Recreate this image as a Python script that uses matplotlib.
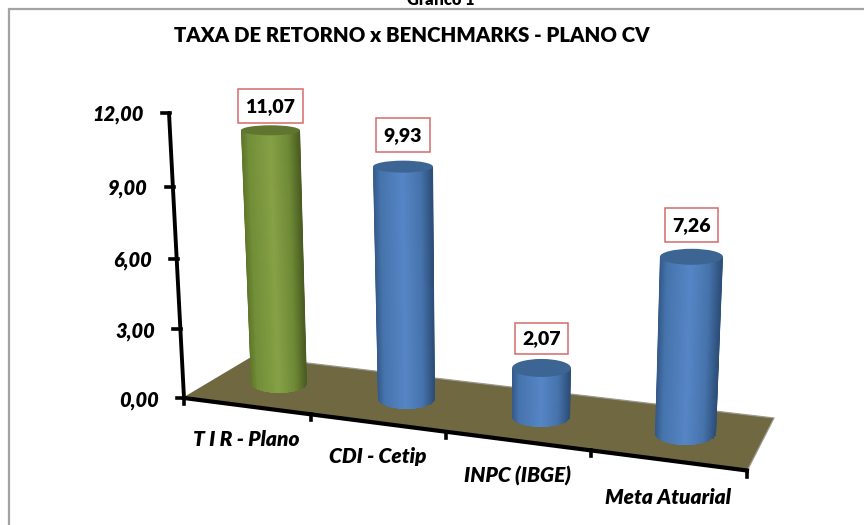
import numpy as np
import matplotlib
matplotlib.use('Agg')
import matplotlib.pyplot as plt
from matplotlib.colors import LinearSegmentedColormap
from matplotlib.patches import Ellipse, PathPatch, Polygon, Rectangle
from matplotlib.path import Path

categories = ['T I R - Plano', 'CDI - Cetip', 'INPC (IBGE)', 'Meta Atuarial']
values = [11.07, 9.93, 2.07, 7.26]
y_ticks = [0, 3, 6, 9, 12]
title = 'TAXA DE RETORNO x BENCHMARKS - PLANO CV'

plt.rcParams['font.family'] = ['Lato', 'DejaVu Sans']

# everything is laid out in picture pixels, y going down
W, H = 864, 525
fig = plt.figure(figsize=(W / 100, H / 100), dpi=100)
ax = fig.add_axes([0, 0, 1, 1])
ax.set_xlim(0, W)
ax.set_ylim(H, 0)
ax.axis('off')


def persp(t, k):
    # foreshortening along an axis seen in perspective
    return t / (1 + k * (1 - t))


def money(v):
    return f'{v:.2f}'.replace('.', ',')


# frame and the cut off caption above it
ax.add_patch(Rectangle((9, 8.5), W, H, fc='white', ec='#a3a3a3', lw=1.6))
ax.text(441, 0, 'Gráfico 1', ha='center', va='center', fontsize=11.8, fontweight='heavy')
ax.text(412, 35, title, ha='center', va='center', fontsize=14.7, fontweight='heavy')

# floor
floor = [(184, 397), (252, 356.5), (774, 418), (747, 471)]
ax.add_patch(Polygon(floor, closed=True, fc='#6f6840', ec='none'))
ax.plot([252, 774, 747], [356.5, 418, 471], color='#9a9a90', lw=0.9)

# y axis
ax.plot([169, 184], [113, 398], color='black', lw=2.8, solid_capstyle='round')
for v in y_ticks:
    t = v / 12
    p = persp(t, 0.05)
    yy = 398 - 285 * p
    xx = 184 - 15 * p
    ax.plot([xx - 7, xx + 1], [yy, yy], color='black', lw=2.6)
    ax.text(xx - 25, yy + 2, money(v), ha='right', va='center', fontsize=14.4,
            fontweight='heavy', fontstyle='italic')

# x axis
ax.plot([184, 747], [398, 470.5], color='black', lw=3)
for i in range(5):
    p = persp(i / 4, 0.149)
    xx = 184 + 563 * p
    yy = 398 + 72.5 * p
    ax.plot([xx, xx], [yy, yy + 6], color='black', lw=2.6)

label_x = [246, 378, 518, 668]
label_y = [440, 457, 476, 497]
for name, xx, yy in zip(categories, label_x, label_y):
    ax.text(xx, yy, name, ha='center', va='center', fontsize=15,
            fontweight='heavy', fontstyle='italic')

# cylinders, base ellipse then how it changes at the full height of the axis
base_x = [279, 406.5, 541, 685.5]
base_y = [383, 398, 416, 433]
base_w = [56, 57, 58, 61]
base_ry = [10, 11, 11, 12]
full_h = [275, 282, 290, 297]
full_dx = [-9.3, -4.3, 3, 10]
full_dw = [3.3, 3.6, 5, 3.4]
top_ry = [5, 6, 9, 8]

green = [(0, '#5d7629'), (0.12, '#728e38'), (0.5, '#86a146'), (0.8, '#6f8a36'), (1, '#4a5c22')]
blue = [(0, '#35598a'), (0.12, '#4674ac'), (0.5, '#5686c7'), (0.8, '#4673ab'), (1, '#2c4d76')]
top_colors = ['#5f7530', '#3c6593', '#3c6593', '#3c6593']
bar_cmaps = [green, blue, blue, blue]

box_w = [65, 54, 53, 53]
box_h = [34, 34, 31, 34]
box_gap = [2, 9, 5, 7]

for i, v in enumerate(values):
    p = persp(v / 12, 0.05)
    bx, by, bw, bry = base_x[i], base_y[i], base_w[i], base_ry[i]
    tx = bx + full_dx[i] * p
    ty = by - full_h[i] * p
    tw = bw + full_dw[i] * p

    # side of the cylinder: straight sides, rounded at the bottom
    ang = np.linspace(np.pi, 0, 40)
    arc_x = bx + bw / 2 * np.cos(ang)
    arc_y = by + bry * np.sin(ang)
    side_x = np.r_[tx - tw / 2, arc_x, tx + tw / 2, tx - tw / 2]
    side_y = np.r_[ty, arc_y, ty, ty]
    clip = PathPatch(Path(np.c_[side_x, side_y]), fc='none', ec='none', transform=ax.transData)
    ax.add_patch(clip)

    s = np.linspace(0, 1, 60)
    mesh_x = np.vstack([tx - tw / 2 + tw * s, bx - bw / 2 + bw * s])
    mesh_y = np.vstack([np.full(60, ty), np.full(60, by + bry)])
    cmap = LinearSegmentedColormap.from_list('cyl', bar_cmaps[i])
    m = ax.pcolormesh(mesh_x, mesh_y, np.vstack([s, s]), cmap=cmap, shading='gouraud', zorder=3)
    m.set_clip_path(clip)

    # top of the cylinder
    ax.add_patch(Ellipse((tx, ty), tw, 2 * top_ry[i], fc=top_colors[i], ec='none', zorder=4))

    # value box
    bottom = ty - top_ry[i] - box_gap[i]
    ax.add_patch(Rectangle((tx - box_w[i] / 2, bottom - box_h[i]), box_w[i], box_h[i],
                           fc='white', ec='#d46a6a', lw=1.1, zorder=5))
    ax.text(tx, bottom - box_h[i] / 2 + 0.5, money(v), ha='center', va='center', fontsize=14,
            fontweight='heavy', zorder=6)

ax.set_xlim(0, W)
ax.set_ylim(H, 0)
fig.savefig('out.png', dpi=100)
